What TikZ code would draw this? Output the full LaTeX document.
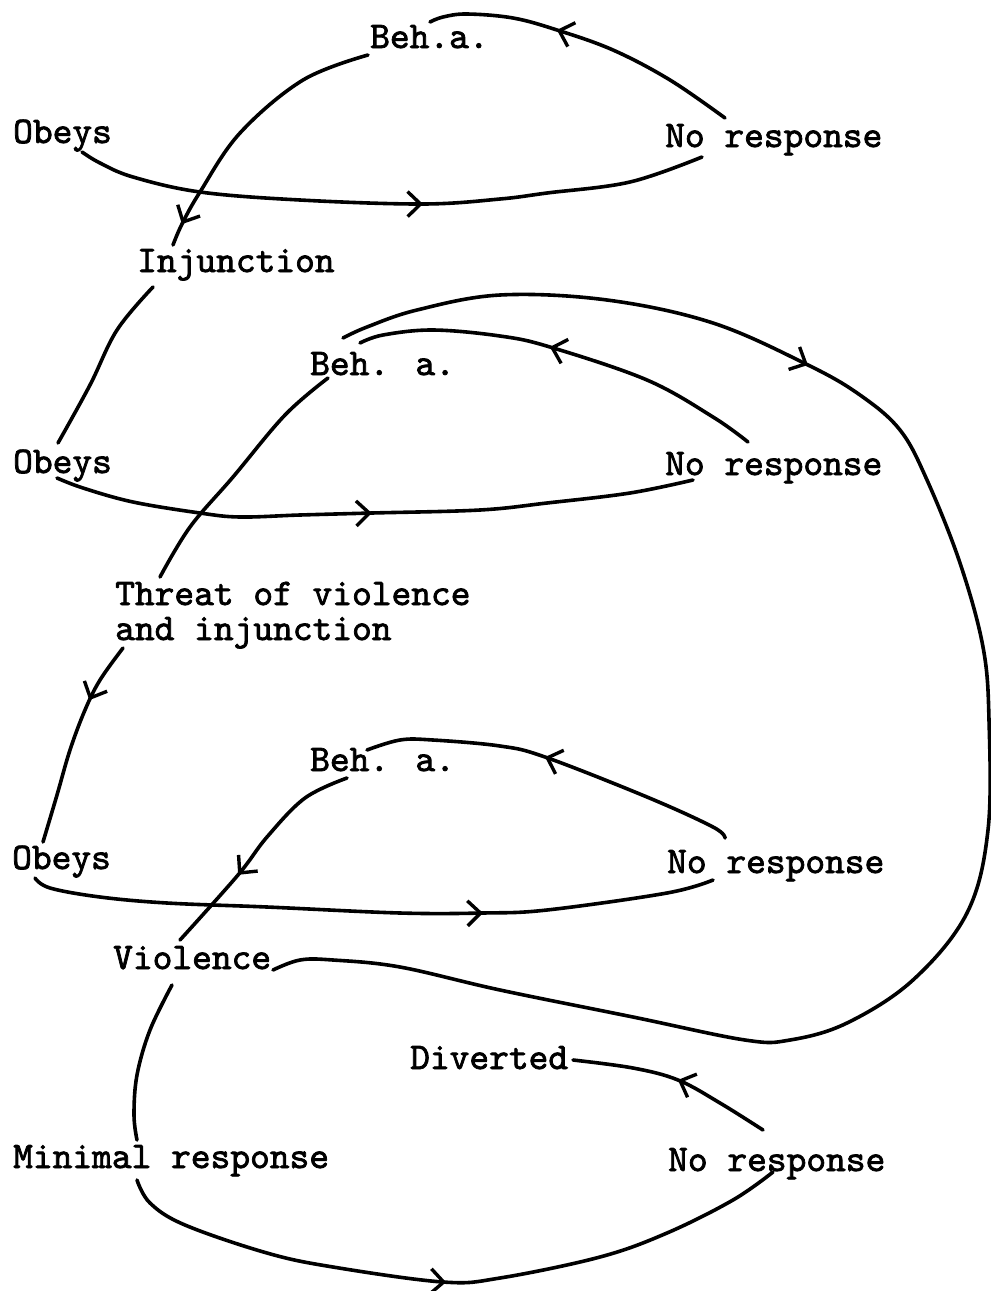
\documentclass[tikz,border=0pt]{standalone}
\usepackage{fontspec}
\newfontfamily\twfont{lmmono10-regular.otf}[FakeBold=2]
\usetikzlibrary{arrows.meta,decorations.markings}
\begin{document}
\begin{tikzpicture}[x=1pt,y=-1pt,
  lbl/.style={anchor=base west,inner sep=0pt,font=\twfont\fontsize{37.6}{35}\selectfont},
  conn/.style={line width=3.6pt,line cap=round,line join=round},
  arrowat/.style={postaction={decorate},decoration={markings,
     mark=at position #1 with {\arrow[line width=3.4pt]{Straight Barb[length=13pt,width=25pt]}}}}
]
\useasboundingbox (0,0) rectangle (991,1291);

% labels
\node[lbl] (beh1)   at (370,48)  {Beh.a.};
\node[lbl] (obeys1) at (13,143)  {Obeys};
\node[lbl] (nor1)   at (665,147) {No response};
\node[lbl] (inj)    at (137,272) {Injunction};
\node[lbl] (beh2)   at (310,375) {Beh. a.};
\node[lbl] (obeys2) at (13,473)  {Obeys};
\node[lbl] (nor2)   at (665,475) {No response};
\node[lbl,align=left] (threat) at (115,640) {Threat of violence\\and injunction};
\node[lbl] (beh3)   at (310,771) {Beh. a.};
\node[lbl] (obeys3) at (12,869)  {Obeys};
\node[lbl] (nor3)   at (667,873) {No response};
\node[lbl] (viol)   at (113,969) {Violence};
\node[lbl] (div)    at (410,1069) {Diverted};
\node[lbl] (minr)   at (13,1168) {Minimal response};
\node[lbl] (nor4)   at (668,1171) {No response};

% C1 Beh.a. -> Injunction
\draw[conn,arrowat=0.92] plot[smooth,tension=0.6] coordinates {([shift={(-2,7)}]beh1.base west) (303,80) (240,133) (200,192) (182,224) ([shift={(36,-27)}]inj.base west)};
% C2 No response -> Beh.a.
\draw[conn,arrowat=0.595] plot[smooth,tension=0.6] coordinates {([shift={(60,-29)}]nor1.base west) (670,80) (613,50) (557,30) (513,18) (467,14) (443,17) ([shift={(60,-26)}]beh1.base west)};
% C3 Obeys -> No response
\draw[conn,arrowat=0.551] plot[smooth,tension=0.6] coordinates {([shift={(69,9)}]obeys1.base west) (100,163) (133,177) (200,192) (300,200) (423,204) (500,199) (547,193) (630,182) ([shift={(37,10)}]nor1.base west)};
% C4 Injunction -> Obeys
\draw[conn] plot[smooth,tension=0.6] coordinates {([shift={(16,15)}]inj.base west) (117,330) (90,385) ([shift={(45,-30)}]obeys2.base west)};
% C5 Beh. a. -> Threat
\draw[conn] plot[smooth,tension=0.6] coordinates {([shift={(18,3)}]beh2.base west) (285,415) (233,477) (190,527) ([shift={(45,-63)}]threat.base west)};
% C6 Obeys -> No response
\draw[conn,arrowat=0.497] plot[smooth,tension=0.6] coordinates {([shift={(44,5)}]obeys2.base west) (83,488) (133,502) (200,513) (240,517) (300,515) (372,513) (480,510) (547,503) (630,493) ([shift={(28,5)}]nor2.base west)};
% C7 No response -> Beh. a.
\draw[conn,arrowat=0.534] plot[smooth,tension=0.6] coordinates {([shift={(83,-33)}]nor2.base west) (713,417) (647,380) (550,347) (500,336) (433,330) (383,335) ([shift={(50,-32)}]beh2.base west)};
% C8 Beh. a. -> Violence (big loop)
\draw[conn,arrowat=0.261] plot[smooth,tension=0.6] coordinates {([shift={(33,-37)}]beh2.base west) (367,327) (417,310) (500,295) (607,300) (713,323) (808,365) (860,395) (900,430) (927,480) (960,563) (983,647) (989,720) (988,830) (967,913) (913,980) (847,1023) (790,1040) (745,1040) (633,1017) (500,990) (400,967) (333,960) (300,960) ([shift={(160,1)}]viol.base west)};
% C9 Threat -> Obeys
\draw[conn,arrowat=0.294] plot[smooth,tension=0.6] coordinates {([shift={(8,8)}]threat.base west) (100,680) (85,710) (70,750) (57,795) ([shift={(31,-27)}]obeys3.base west)};
% C10 Beh. a. -> Violence
\draw[conn,arrowat=0.63] plot[smooth,tension=0.6] coordinates {([shift={(37,7)}]beh3.base west) (305,798) (267,837) (238,875) ([shift={(67,-29)}]viol.base west)};
% C11 Obeys -> No response
\draw[conn,arrowat=0.66] plot[smooth,tension=0.6] coordinates {([shift={(23,9)}]obeys3.base west) (50,888) (100,897) (167,903) (267,907) (400,913) (483,913) (547,910) (667,893) ([shift={(46,7)}]nor3.base west)};
% C12 No response -> Beh. a.
\draw[conn,arrowat=0.523] plot[smooth,tension=0.6] coordinates {([shift={(58,-35)}]nor3.base west) (713,827) (647,797) (545,757) (500,746) (433,740) (400,740) ([shift={(57,-21)}]beh3.base west)};
% C13 Violence -> Minimal response
\draw[conn] plot[smooth,tension=0.6] coordinates {([shift={(59,16)}]viol.base west) (150,1030) (137,1075) (134,1115) ([shift={(124,-28)}]minr.base west)};
% C14 Minimal response -> No response
\draw[conn,arrowat=0.49] plot[smooth,tension=0.6] coordinates {([shift={(124,12)}]minr.base west) (150,1203) (185,1225) (267,1253) (333,1267) (443,1282) (500,1278) (600,1257) (667,1233) (733,1200) ([shift={(105,1)}]nor4.base west)};
% C15 No response -> Diverted
\draw[conn,arrowat=0.48] plot[smooth,tension=0.6] coordinates {([shift={(95,-41)}]nor4.base west) (720,1103) (678,1080) (633,1068) ([shift={(163,-9)}]div.base west)};
\end{tikzpicture}
\end{document}
